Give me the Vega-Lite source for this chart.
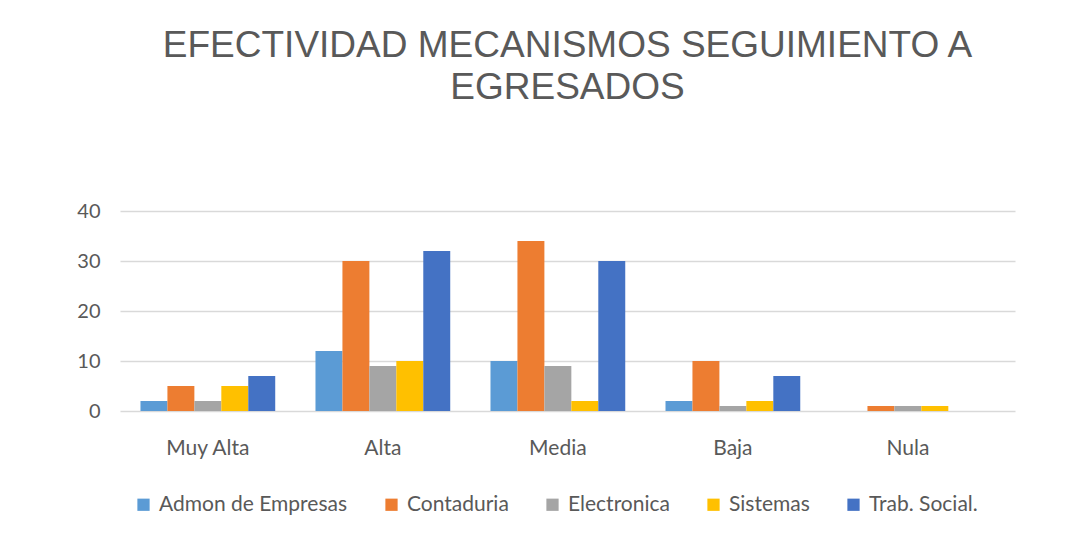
{
  "$schema": "https://vega.github.io/schema/vega-lite/v6.json",
  "width": 895,
  "height": 200,
  "autosize": "none",
  "padding": {"left": 120, "top": 211, "right": 74, "bottom": 128},
  "background": "white",
  "title": {
    "text": ["EFECTIVIDAD MECANISMOS SEGUIMIENTO A", "EGRESADOS"],
    "font": "Liberation Sans",
    "fontSize": 37,
    "fontWeight": "normal",
    "color": "#595959",
    "anchor": "middle",
    "lineHeight": 42,
    "offset": 94
  },
  "data": {
    "values": [
      {"nivel": "Muy Alta", "programa": "Admon de Empresas", "valor": 2},
      {"nivel": "Muy Alta", "programa": "Contaduria", "valor": 5},
      {"nivel": "Muy Alta", "programa": "Electronica", "valor": 2},
      {"nivel": "Muy Alta", "programa": "Sistemas", "valor": 5},
      {"nivel": "Muy Alta", "programa": "Trab. Social.", "valor": 7},
      {"nivel": "Alta", "programa": "Admon de Empresas", "valor": 12},
      {"nivel": "Alta", "programa": "Contaduria", "valor": 30},
      {"nivel": "Alta", "programa": "Electronica", "valor": 9},
      {"nivel": "Alta", "programa": "Sistemas", "valor": 10},
      {"nivel": "Alta", "programa": "Trab. Social.", "valor": 32},
      {"nivel": "Media", "programa": "Admon de Empresas", "valor": 10},
      {"nivel": "Media", "programa": "Contaduria", "valor": 34},
      {"nivel": "Media", "programa": "Electronica", "valor": 9},
      {"nivel": "Media", "programa": "Sistemas", "valor": 2},
      {"nivel": "Media", "programa": "Trab. Social.", "valor": 30},
      {"nivel": "Baja", "programa": "Admon de Empresas", "valor": 2},
      {"nivel": "Baja", "programa": "Contaduria", "valor": 10},
      {"nivel": "Baja", "programa": "Electronica", "valor": 1},
      {"nivel": "Baja", "programa": "Sistemas", "valor": 2},
      {"nivel": "Baja", "programa": "Trab. Social.", "valor": 7},
      {"nivel": "Nula", "programa": "Admon de Empresas", "valor": 0},
      {"nivel": "Nula", "programa": "Contaduria", "valor": 1},
      {"nivel": "Nula", "programa": "Electronica", "valor": 1},
      {"nivel": "Nula", "programa": "Sistemas", "valor": 1},
      {"nivel": "Nula", "programa": "Trab. Social.", "valor": 0}
    ]
  },
  "mark": {"type": "bar"},
  "encoding": {
    "x": {
      "field": "nivel",
      "type": "nominal",
      "sort": ["Muy Alta", "Alta", "Media", "Baja", "Nula"],
      "scale": {"paddingInner": 0.23, "paddingOuter": 0.172, "align": 0.34},
      "axis": {
        "title": null,
        "labelAngle": 0,
        "domain": false,
        "ticks": false,
        "labelFont": "Lato",
        "labelFontSize": 21,
        "labelColor": "#595959",
        "labelPadding": 26
      }
    },
    "xOffset": {
      "field": "programa",
      "type": "nominal",
      "sort": ["Admon de Empresas", "Contaduria", "Electronica", "Sistemas", "Trab. Social."]
    },
    "y": {
      "field": "valor",
      "type": "quantitative",
      "scale": {"domain": [0, 40]},
      "axis": {
        "title": null,
        "values": [0, 10, 20, 30, 40],
        "domain": false,
        "ticks": false,
        "grid": true,
        "gridColor": "#d9d9d9",
        "gridWidth": 1.5,
        "labelFont": "Lato",
        "labelFontSize": 20,
        "labelColor": "#595959",
        "labelPadding": 20
      }
    },
    "color": {
      "field": "programa",
      "type": "nominal",
      "sort": ["Admon de Empresas", "Contaduria", "Electronica", "Sistemas", "Trab. Social."],
      "scale": {
        "domain": ["Admon de Empresas", "Contaduria", "Electronica", "Sistemas", "Trab. Social."],
        "range": ["#5B9BD5", "#ED7D31", "#A5A5A5", "#FFC000", "#4472C4"]
      },
      "legend": {
        "title": null,
        "orient": "none",
        "direction": "horizontal",
        "legendX": 13,
        "legendY": 283,
        "symbolType": "square",
        "symbolSize": 150,
        "symbolStrokeWidth": 0,
        "labelFont": "Lato",
        "labelFontSize": 21,
        "labelLimit": 0,
        "labelColor": "#595959",
        "columnPadding": 33,
        "labelOffset": 5
      }
    }
  },
  "config": {"view": {"stroke": null}}
}
